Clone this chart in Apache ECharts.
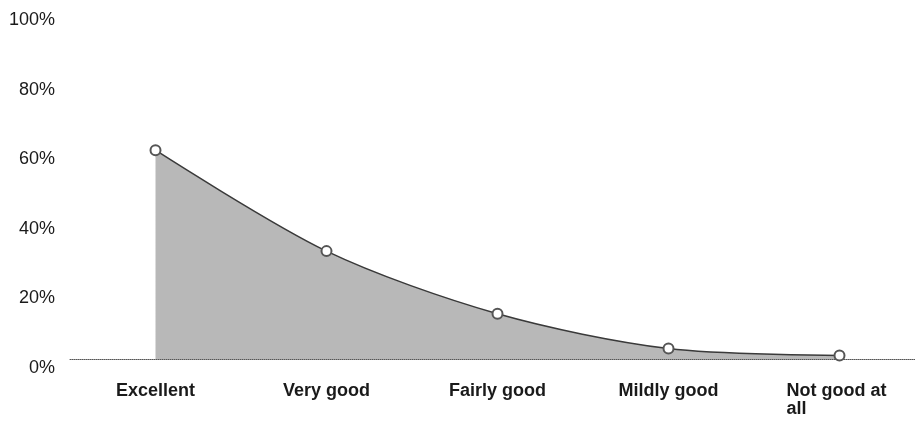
<!DOCTYPE html>
<html>
<head>
<meta charset="utf-8">
<title>Ratings</title>
<script src="https://cdn.jsdelivr.net/npm/echarts@6/dist/echarts.min.js"></script>
<style>
  html, body { margin: 0; padding: 0; background: #fff; }
  #chart { width: 915px; height: 421px; }
</style>
</head>
<body>
<div id="chart"></div>
<script>
// answers, left to right
const categories = ['Excellent', 'Very good', 'Fairly good', 'Mildly good', 'Not good at all']
// share of respondents (%)
const shares = [60, 31, 13, 3, 1]
const yTicks = [0, 20, 40, 60, 80, 100]

const chart = echarts.init(document.getElementById('chart'))

const option = {
  animation: false,
  grid: {
    left: 70,
    top: 11,
    right: -10,
    height: 348,
    outerBoundsMode: 'none'
  },
  xAxis: {
    type: 'category',
    data: categories,
    boundaryGap: true,
    axisLine: {
      lineStyle: { color: '#555', type: 'dotted', width: 1 }
    },
    axisTick: { show: false },
    axisLabel: {
      margin: 23,
      interval: 0,
      color: '#1a1a1a',
      fontFamily: 'Liberation Sans, Arial, sans-serif',
      fontSize: 18,
      fontWeight: 'bold',
      lineHeight: 18,
      // long label wraps, second line left aligned
      formatter: v => v.length > 12 ? '{w|' + v.replace(' at all', ' at\nall') + '}' : v,
      rich: {
        w: {
          width: 106,
          align: 'left',
          fontSize: 18,
          fontWeight: 'bold',
          lineHeight: 18,
          color: '#1a1a1a',
          fontFamily: 'Liberation Sans, Arial, sans-serif'
        }
      }
    }
  },
  yAxis: {
    type: 'value',
    min: yTicks[0],
    max: yTicks[yTicks.length - 1],
    interval: 20,
    axisLine: { show: false },
    axisTick: { show: false },
    splitLine: { show: false },
    axisLabel: {
      margin: 15,
      color: '#1a1a1a',
      fontFamily: 'Liberation Sans, Arial, sans-serif',
      fontSize: 18,
      verticalAlign: 'top',
      formatter: '{value}%'
    }
  },
  series: [
    {
      type: 'line',
      data: shares,
      smooth: 0.3,
      symbol: 'emptyCircle',
      symbolSize: 10,
      lineStyle: { color: '#3a3a3a', width: 1.5 },
      itemStyle: { color: '#555', borderWidth: 1.2 },
      areaStyle: { color: '#b8b8b8', opacity: 1 }
    }
  ]
}

chart.setOption(option)
</script>
</body>
</html>
